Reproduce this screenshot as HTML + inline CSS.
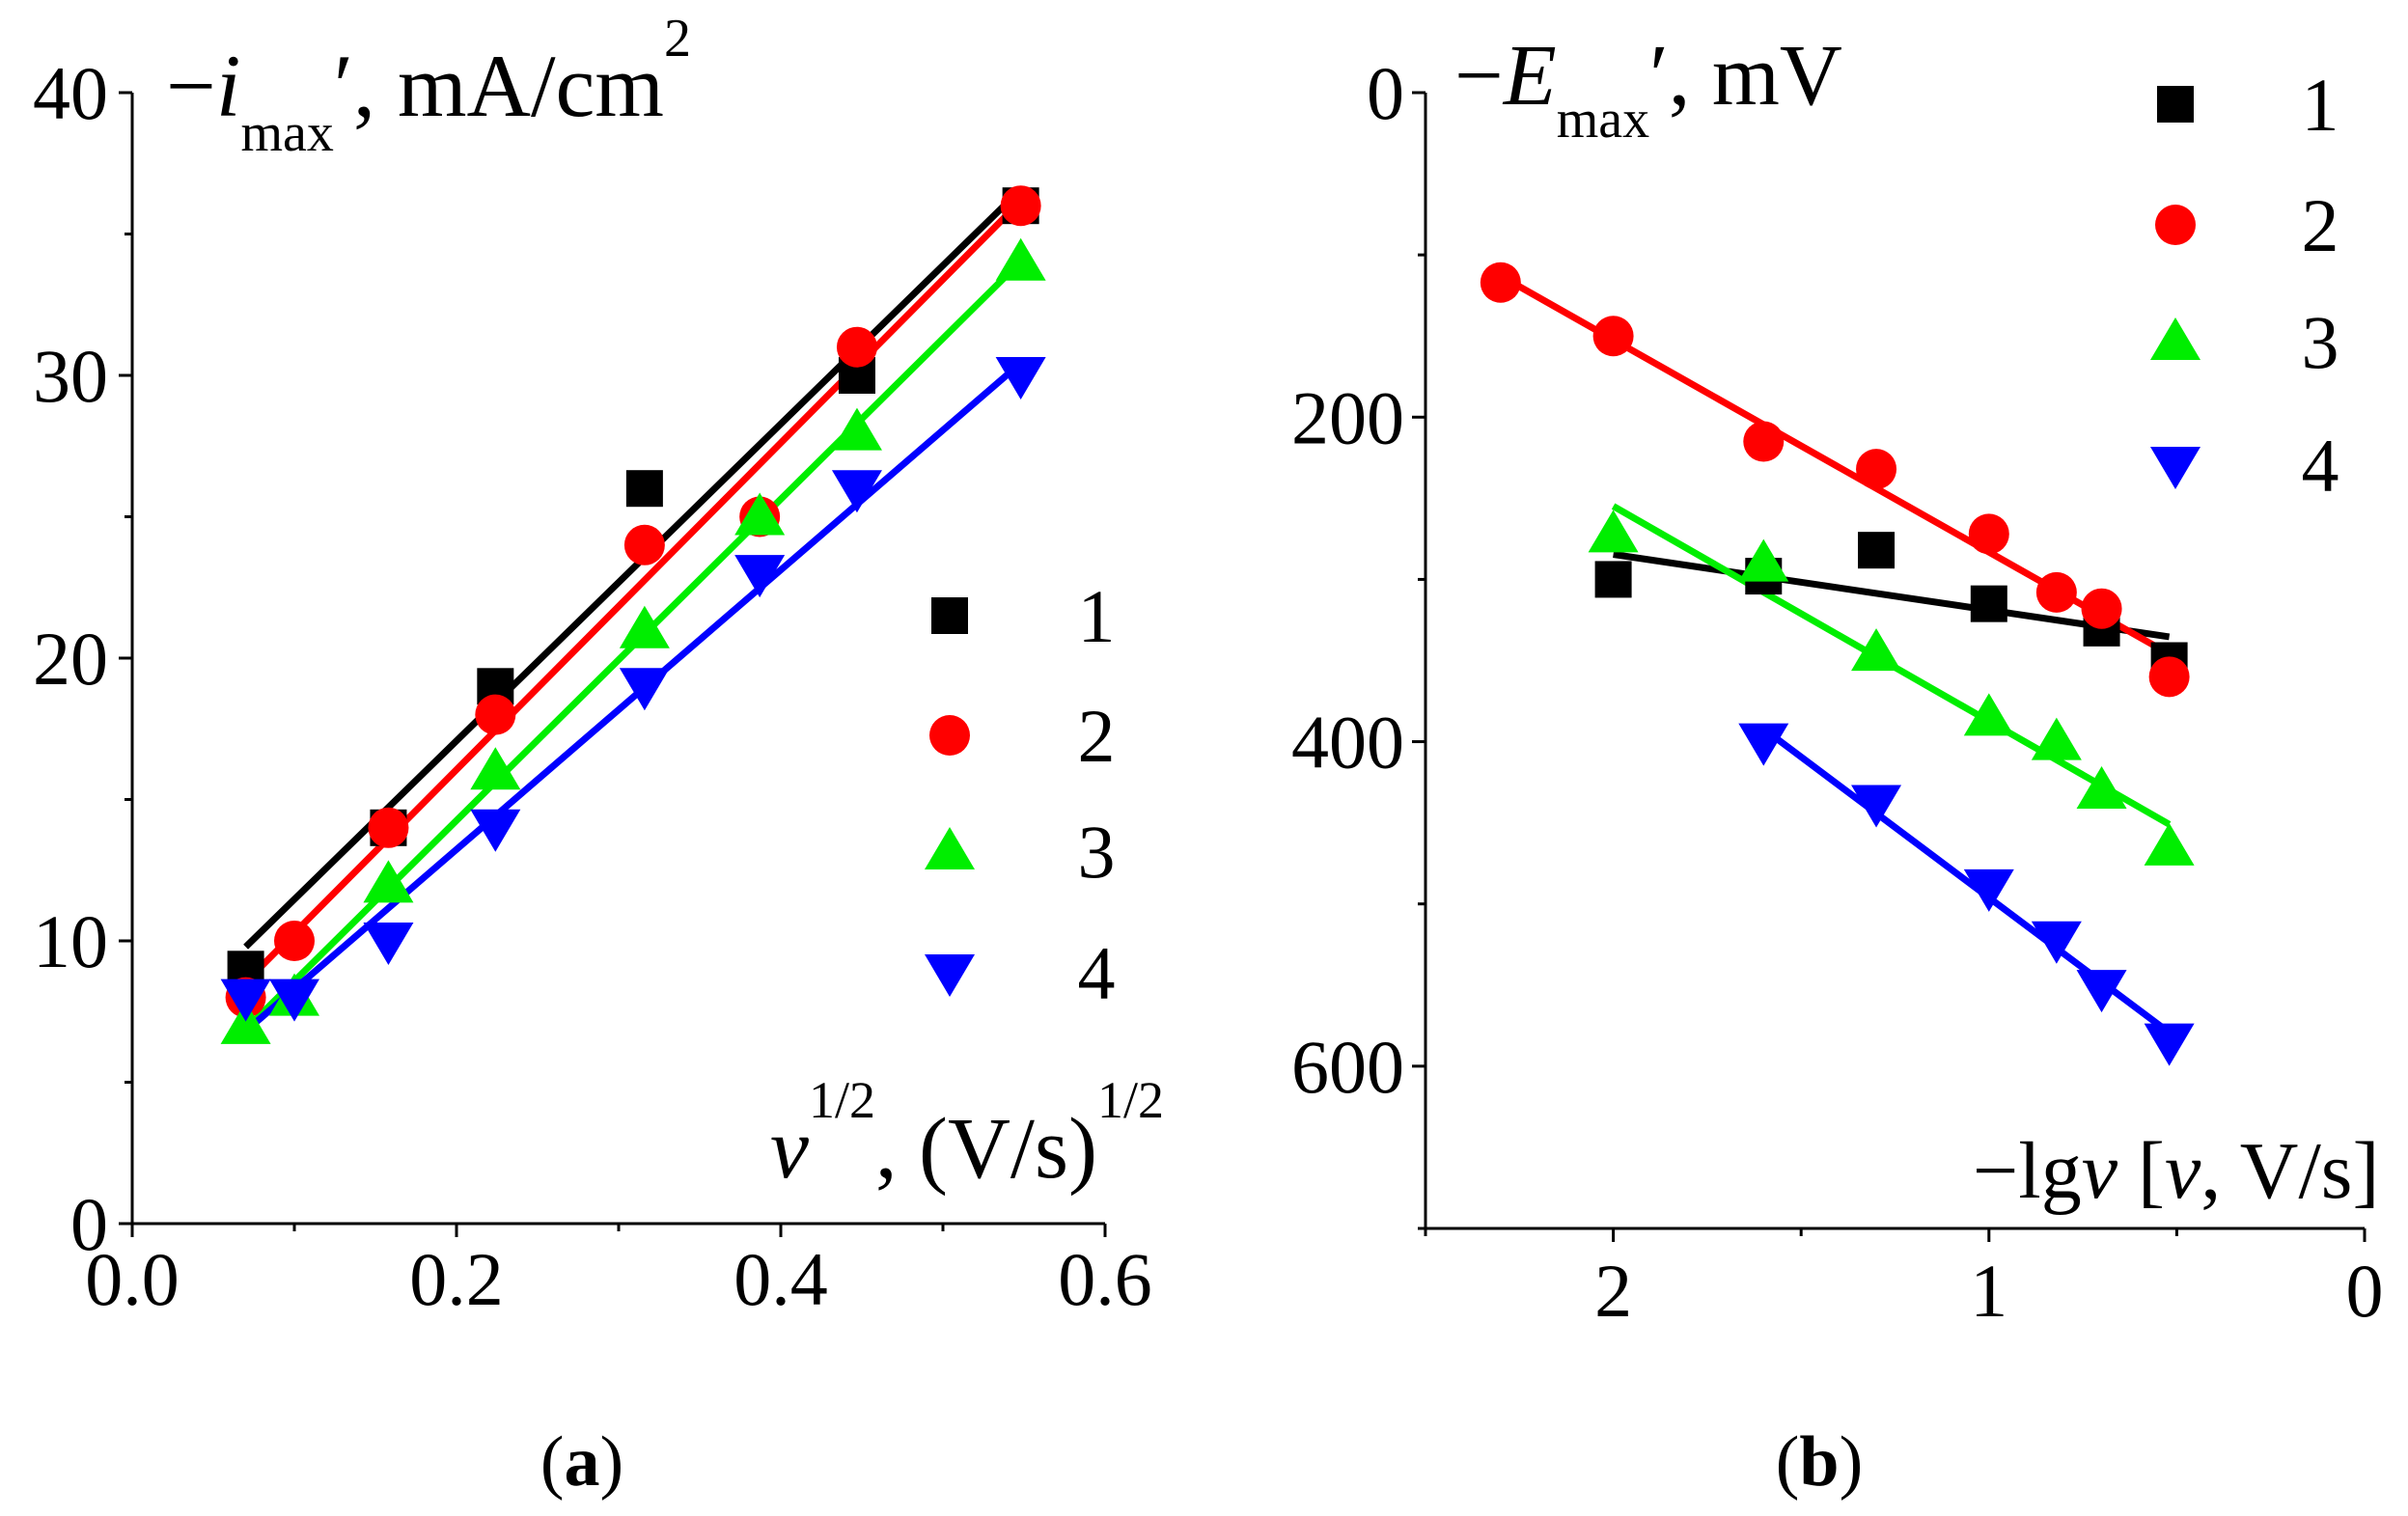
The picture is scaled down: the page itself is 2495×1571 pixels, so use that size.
<!DOCTYPE html>
<html><head><meta charset="utf-8"><style>
html,body{margin:0;padding:0;background:#fff;}
svg{display:block;font-family:"Liberation Serif",serif;}
</style></head><body>
<svg id="fig" width="2495" height="1571" viewBox="0 0 2495 1571" xmlns="http://www.w3.org/2000/svg">
<g id="pa"></g>
<g id="pb"></g>
<text x="603" y="1539" font-size="74" text-anchor="middle">(<tspan font-weight="bold">a</tspan>)</text>
<text x="1885" y="1539" font-size="74" text-anchor="middle">(<tspan font-weight="bold">b</tspan>)</text>
<text x="172" y="120" font-size="92">−<tspan font-style="italic">i</tspan><tspan font-size="56" dy="36">max</tspan><tspan dy="-36">′, mA/cm</tspan><tspan font-size="56" dy="-62">2</tspan></text>
<text x="798" y="1220" font-size="90"><tspan font-style="italic">v</tspan><tspan font-size="54" dy="-62">1/2</tspan><tspan dy="62">, (V/s)</tspan><tspan font-size="54" dy="-62">1/2</tspan></text>
<text x="1507" y="108" font-size="90">−<tspan font-style="italic">E</tspan><tspan font-size="56" dy="34">max</tspan><tspan dy="-34">′, mV</tspan></text>
<text x="2044" y="1241" font-size="84">−lg<tspan font-style="italic">v</tspan> [<tspan font-style="italic">v</tspan>, V/s]</text>
</svg>
<script>
// Panel (a) data
const aX = [0.07, 0.1, 0.158, 0.224, 0.316, 0.387, 0.447, 0.548];
const aS1 = [9, null, 14, 19, 26, null, 30, 36];
const aS2 = [8, 10, 14, 18, 24, 25, 31, 36];
const aS3 = [7, 8, 12, 16, 21, 25, 28, 34];
const aS4 = [8, 8, 10, 14, 19, 23, 26, 30];
const aXTicks = ["0.0", "0.2", "0.4", "0.6"];
const aYTicks = ["0", "10", "20", "30", "40"];
// Panel (b) data
const bX = [2.3, 2, 1.6, 1.3, 1, 0.82, 0.7, 0.52];
const bS1 = [null, 300, 298, 282, 315, null, 330, 350];
const bS2 = [117, 150, 215, 232, 272, 308, 318, 360];
const bS3 = [null, 272, 290, 345, 385, 400, 430, 465];
const bS4 = [null, null, 400, 438, 490, 522, 552, 585];
const bXTicks = ["2", "1", "0"];
const bYTicks = ["0", "200", "400", "600"];
const colors = ["#000000", "#ff0000", "#00ee00", "#0000ff"];

const NS = "http://www.w3.org/2000/svg";
function mk(parent, tag, attrs) {
  const e = document.createElementNS(NS, tag);
  for (const k in attrs) e.setAttribute(k, attrs[k]);
  parent.appendChild(e);
  return e;
}
function marker(g, kind, cx, cy, color) {
  if (kind === 0) return mk(g, "rect", {x: cx - 19, y: cy - 19, width: 38, height: 38, fill: color});
  if (kind === 1) return mk(g, "circle", {cx: cx, cy: cy, r: 21, fill: color});
  if (kind === 2) return mk(g, "polygon", {points: `${cx},${cy - 25} ${cx + 26},${cy + 19} ${cx - 26},${cy + 19}`, fill: color});
  return mk(g, "polygon", {points: `${cx - 26},${cy - 19} ${cx + 26},${cy - 19} ${cx},${cy + 25}`, fill: color});
}
function fit(xs, ys) {
  const p = xs.map((x, i) => [x, ys[i]]).filter(d => d[1] !== null);
  const n = p.length;
  let sx = 0, sy = 0, sxx = 0, sxy = 0;
  p.forEach(([x, y]) => { sx += x; sy += y; sxx += x * x; sxy += x * y; });
  const b = (n * sxy - sx * sy) / (n * sxx - sx * sx);
  const a = (sy - b * sx) / n;
  const xmin = Math.min(...p.map(d => d[0])), xmax = Math.max(...p.map(d => d[0]));
  return {a, b, xmin, xmax};
}
function drawSeries(g, xs, series, sx, sy) {
  series.forEach((ys, k) => {
    const f = fit(xs, ys);
    const ln = mk(g, "line", {x1: sx(f.xmin), y1: sy(f.a + f.b * f.xmin), x2: sx(f.xmax), y2: sy(f.a + f.b * f.xmax), stroke: colors[k], "stroke-width": 7});
    
    
  });
  series.forEach((ys, k) => {
    ys.forEach((y, i) => {
      if (y === null) return;
      const m = marker(g, k, sx(xs[i]), sy(y), colors[k]);
      
      
    });
  });
}
function legend(g, x0, y0s, xl) {
  y0s.forEach((y, k) => {
    const m = marker(g, k, x0, y, colors[k]);
    
    
    const t = mk(g, "text", {x: xl, y: y + 27, "font-size": 78, "text-anchor": "middle"});
    t.textContent = String(k + 1);
    
    
  });
}

// ---- Panel a ----
(function () {
  const g = document.getElementById("pa");
  const X0 = 137, X1 = 1145, Y0 = 1268, Y1 = 96;
  const sx = v => X0 + (v / 0.6) * (X1 - X0);
  const sy = v => Y0 - (v / 40) * (Y0 - Y1);
  const ax = mk(g, "path", {d: `M${X0},${Y1} V${Y0} H${X1}`, fill: "none", stroke: "#000", "stroke-width": 3});
  
  
  for (let v = 0; v <= 40; v += 5) {
    const major = v % 10 === 0;
    mk(g, "line", {x1: X0 - (major ? 14 : 8), y1: sy(v), x2: X0, y2: sy(v), stroke: "#000", "stroke-width": 3});
  }
  for (let i = 0; i <= 6; i++) {
    const major = i % 2 === 0;
    mk(g, "line", {x1: sx(i / 10), y1: Y0, x2: sx(i / 10), y2: Y0 + (major ? 14 : 8), stroke: "#000", "stroke-width": 3});
  }
  aYTicks.forEach(t => {
    const e = mk(g, "text", {x: 112, y: sy(+t) + 27, "font-size": 78, "text-anchor": "end"});
    e.textContent = t;
    
    
  });
  aXTicks.forEach(t => {
    const e = mk(g, "text", {x: sx(+t), y: 1352, "font-size": 78, "text-anchor": "middle"});
    e.textContent = t;
    
    
  });
  drawSeries(g, aX, [aS1, aS2, aS3, aS4], sx, sy);
  legend(g, 984, [638, 762, 882, 1008], 1136);
})();

// ---- Panel b ----
(function () {
  const g = document.getElementById("pb");
  const X0 = 1477, X1 = 2450, Y0 = 1273, Y1 = 96;
  const sx = v => X1 - (v / 2.5) * (X1 - X0);
  const sy = v => Y1 + (v / 700) * (Y0 - Y1);
  const ax = mk(g, "path", {d: `M${X0},${Y1} V${Y0} H${X1}`, fill: "none", stroke: "#000", "stroke-width": 3});
  
  
  for (let v = 0; v <= 700; v += 100) {
    const major = v % 200 === 0;
    mk(g, "line", {x1: X0 - (major ? 14 : 8), y1: sy(v), x2: X0, y2: sy(v), stroke: "#000", "stroke-width": 3});
  }
  for (let i = 0; i <= 5; i++) {
    const major = i % 2 === 0;
    mk(g, "line", {x1: sx(i / 2), y1: Y0, x2: sx(i / 2), y2: Y0 + (major ? 14 : 8), stroke: "#000", "stroke-width": 3});
  }
  bYTicks.forEach(t => {
    const e = mk(g, "text", {x: 1455, y: sy(+t) + 27, "font-size": 78, "text-anchor": "end"});
    e.textContent = t;
    
    
  });
  bXTicks.forEach(t => {
    const e = mk(g, "text", {x: sx(+t), y: 1364, "font-size": 78, "text-anchor": "middle"});
    e.textContent = t;
    
    
  });
  drawSeries(g, bX, [bS1, bS2, bS3, bS4], sx, sy);
  legend(g, 2254, [108, 233, 354, 482], 2404);
})();
</script>
</body></html>
